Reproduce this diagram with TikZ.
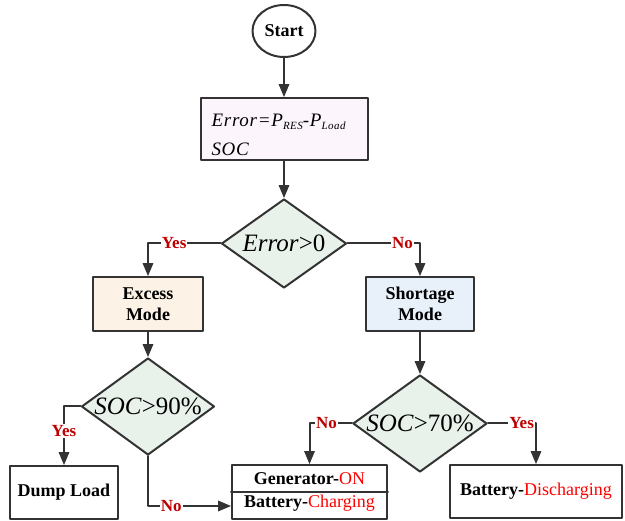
\documentclass[tikz,border=0pt]{standalone}
\usepackage{fontspec}
\setmainfont{Liberation Serif}
\usetikzlibrary{arrows,shapes.geometric,calc}
\definecolor{rrrrrr}{rgb}{0.2,0.2,0.2}
\definecolor{ffeeff}{rgb}{0.99,0.96,0.99}
\definecolor{ddeedd}{rgb}{0.91,0.95,0.92}
\definecolor{ffeedd}{rgb}{0.99,0.95,0.9}
\definecolor{ddeeff}{rgb}{0.91,0.94,0.98}
\definecolor{ccqqqq}{rgb}{0.75,0,0}
\definecolor{ffqqqq}{rgb}{1,0,0}
\begin{document}
\begin{tikzpicture}[line cap=round,line join=round,>=triangle 45,x=1pt,y=-1pt,
  every node/.style={font=\fontsize{18}{21}\selectfont\bfseries},
  block/.style={draw=rrrrrr,line width=2pt,rectangle,inner sep=0pt,align=center},
  decision/.style={draw=rrrrrr,line width=2pt,diamond,fill=ddeedd,inner sep=0pt,aspect=1.4,font=\fontsize{25}{25}\selectfont},
  flow/.style={->,line width=2pt,draw=rrrrrr},
  answer/.style={fill=white,inner sep=1pt,text=ccqqqq,font=\fontsize{17}{17}\selectfont\bfseries}]
\useasboundingbox (0,0) rectangle (625,521);
\node[ellipse,draw=rrrrrr,line width=2pt,minimum width=63pt,minimum height=52pt,inner sep=0pt] (start) at (284,31) {Start};
\node[block,fill=ffeeff,minimum width=167pt,minimum height=62pt,text width=145pt,align=left,font=\fontsize{19}{28.5}\selectfont\itshape\addfontfeatures{LetterSpace=4}] (input) at (284,129) {\rule{0pt}{24pt}Error=P\raisebox{-3pt}{\fontsize{11}{11}\selectfont RES}-P\raisebox{-3pt}{\fontsize{11}{11}\selectfont Load}\\SOC};
\node[decision,minimum width=125pt,minimum height=89pt] (d1) at (284,243.5) {\makebox[0pt]{\textit{Error}>0}};
\node[block,fill=ffeedd,minimum width=110pt,minimum height=54pt] (excess) at (148,304) {Excess\\Mode};
\node[block,fill=ddeeff,minimum width=108pt,minimum height=54pt] (shortage) at (420,304) {Shortage\\Mode};
\node[decision,minimum width=133pt,minimum height=97pt] (d2) at (148,406.5) {\makebox[0pt]{\textit{SOC}>90\%}};
\node[decision,minimum width=134pt,minimum height=97pt] (d3) at (420,423.5) {\makebox[0pt]{\textit{SOC}>70\%}};
\node[block,minimum width=108pt,minimum height=53pt] (dump) at (64,492.5) {Dump Load};
\node[block,minimum width=155pt,minimum height=54pt,font=\fontsize{18}{23}\selectfont\bfseries] (gen) at (309.5,492) {Generator-\textcolor{ffqqqq}{\mdseries ON}\\Battery-\textcolor{ffqqqq}{\mdseries Charging}};
\draw[line width=2pt,draw=rrrrrr] (gen.west) -- (gen.east);
\node[block,minimum width=172pt,minimum height=53pt] (disch) at (536,491.5) {Battery-\textcolor{ffqqqq}{\mdseries Discharging}};
% connectors
\draw[flow] (start) -- (input);
\draw[flow] (input) -- (d1);
\draw[flow] (d1.west) -| node[answer,pos=0.32] {Yes} (excess.north);
\draw[flow] (d1.east) -| node[answer,pos=0.38] {No} (shortage.north);
\draw[flow] (excess) -- (d2);
\draw[flow] (shortage) -- (d3);
\draw[flow] (d2.west) -| node[answer,pos=0.71] {Yes} (dump.north);
\draw[flow] (d2.south) |- node[answer,pos=0.64] {No} ($(gen.west)!0.5!(gen.south west)$);
\draw[flow] (d3.west) -| node[answer,pos=0.3] {No} (gen.north);
\draw[flow] (d3.east) -| node[answer,pos=0.35] {Yes} (disch.north);
\end{tikzpicture}
\end{document}
